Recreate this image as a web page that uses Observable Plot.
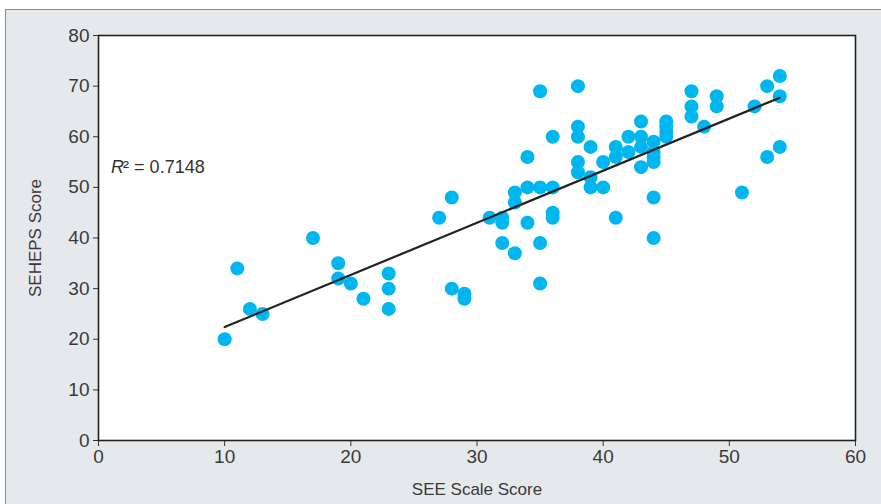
<!DOCTYPE html>
<html>
<head>
<meta charset="utf-8">
<script src="https://cdn.jsdelivr.net/npm/d3@7"></script>
<script src="https://cdn.jsdelivr.net/npm/@observablehq/plot@0.6"></script>
<style>
  html, body { margin: 0; padding: 0; background: #fff; }
  #wrap { position: relative; width: 881px; height: 504px; overflow: hidden; }
  #panel { position: absolute; left: 5px; top: 9px; width: 900px; height: 520px;
           background: #e6e9ec; border-top: 1px solid #8a8d90; border-left: 1px solid #8a8d90; }
  #chart { position: absolute; left: 0; top: 0; }
</style>
</head>
<body>
<div id="wrap"><div id="panel"></div><div id="chart"></div></div>
<script>
// SEE Scale Score (x) and SEHEPS Score (y)
const seeScore = [10,11,12,13,17,19,19,20,21,23,23,23,27,28,28,29,29,31,32,32,32,33,33,33,34,34,34,35,35,35,35,36,36,36,36,38,38,38,38,38,39,39,39,40,40,41,41,41,42,42,43,43,43,43,44,44,44,44,44,44,45,45,45,45,47,47,47,48,49,49,51,52,53,53,54,54,54];
const sehepsScore = [20,34,26,25,40,35,32,31,28,33,30,26,44,48,30,29,28,44,44,43,39,49,47,37,50,56,43,69,50,39,31,60,50,45,44,70,62,60,55,53,58,52,50,55,50,58,56,44,60,57,63,60,58,54,59,57,56,55,48,40,63,62,61,60,69,66,64,62,68,66,49,66,70,56,72,68,58];
const xTicks = [0,10,20,30,40,50,60];
const yTicks = [0,10,20,30,40,50,60,70,80];
const xLabel = "SEE Scale Score";
const yLabel = "SEHEPS Score";
const r2Label = ["R", "² = 0.7148"];
const r2Pos = {x: 1, y: 54};

const data = seeScore.map((x, i) => ({x, y: sehepsScore[i]}));

const font = "'Liberation Sans', Arial, sans-serif";
const chart = Plot.plot({
  width: 881,
  height: 504,
  marginLeft: 98,
  marginRight: 26,
  marginTop: 35,
  marginBottom: 64,
  style: {background: "transparent", fontFamily: font, fontSize: "19px", color: "#3a3a3a"},
  x: {domain: [0, 60]},
  y: {domain: [0, 80]},
  marks: [
    Plot.frame({fill: "white", stroke: null}),
    Plot.axisX({ticks: xTicks, tickSize: 6, tickPadding: 3, tickFormat: d3.format("d"), label: null, fontSize: 19, stroke: "#333"}),
    Plot.axisX({ticks: [], label: xLabel, labelAnchor: "center", labelArrow: "none", labelOffset: 54, fontSize: 17}),
    Plot.axisY({ticks: yTicks, tickSize: 5, tickPadding: 4, tickFormat: d3.format("d"), label: null, fontSize: 19, stroke: "#333"}),
    Plot.axisY({ticks: [], label: yLabel, labelAnchor: "center", labelArrow: "none", labelOffset: 70, fontSize: 17}),
    Plot.dot(data, {x: "x", y: "y", r: 7, fill: "#00b6ef", stroke: null}),
    Plot.linearRegressionY(data, {x: "x", y: "y", stroke: "#222", strokeWidth: 2.2, ci: 0}),
    Plot.text([r2Pos], {x: "x", y: "y", text: () => r2Label[0], textAnchor: "start", fontStyle: "italic", fontSize: 18, fill: "#333"}),
    Plot.text([r2Pos], {x: "x", y: "y", text: () => r2Label[1], textAnchor: "start", dx: 12, fontSize: 18, fill: "#333"}),
    Plot.frame({stroke: "#222", strokeWidth: 1.6})
  ]
});
document.getElementById("chart").appendChild(chart);
</script>
</body>
</html>
